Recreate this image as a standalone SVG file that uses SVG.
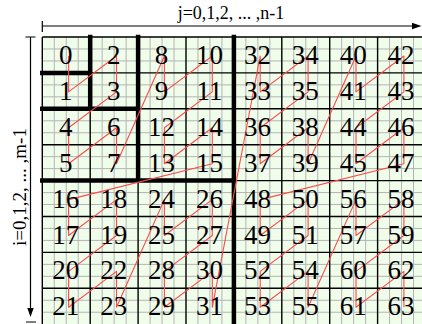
<svg xmlns="http://www.w3.org/2000/svg" width="422" height="324" viewBox="0 0 422 324">
<style>
.num{font-family:"Liberation Serif","Times New Roman",serif;font-size:27px;fill:#000;text-anchor:middle}
.lbl{font-family:"Liberation Serif","Times New Roman",serif;font-size:18px;fill:#000;text-anchor:middle}
.fine{stroke:#b4b4b4;stroke-width:1;fill:none}
.cell{stroke:#000;stroke-width:1.4;fill:none}
.thick{stroke:#000;stroke-width:4.5;fill:none;stroke-linecap:square}
.axis{stroke:#000;stroke-width:1.2;fill:none}
.path{stroke:#ff4a4a;stroke-width:1.1;fill:none;stroke-linejoin:round}
</style>
<rect x="0" y="0" width="422" height="324" fill="#fff"/>
<g id="grid">
<rect x="42.3" y="37" width="390" height="290" fill="#effdea"/>
<path class="fine" d="M54.28 37V324M66.25 37V324M78.23 37V324M102.18 37V324M114.15 37V324M126.13 37V324M150.08 37V324M162.05 37V324M174.03 37V324M197.98 37V324M209.95 37V324M221.93 37V324M245.88 37V324M257.85 37V324M269.83 37V324M293.78 37V324M305.75 37V324M317.73 37V324M341.68 37V324M353.65 37V324M365.63 37V324M389.58 37V324M401.55 37V324M413.53 37V324
M42.3 48.97H422M42.3 60.93H422M42.3 84.87H422M42.3 96.83H422M42.3 120.77H422M42.3 132.73H422M42.3 156.67H422M42.3 168.63H422M42.3 192.57H422M42.3 204.53H422M42.3 228.47H422M42.3 240.43H422M42.3 264.37H422M42.3 276.33H422M42.3 300.27H422M42.3 312.23H422"/>
<path class="cell" d="M42.3 37V324M90.2 37V324M138.1 37V324M186 37V324M233.9 37V324M281.8 37V324M329.7 37V324M377.6 37V324
M42.3 37H422M42.3 72.9H422M42.3 108.8H422M42.3 144.7H422M42.3 180.6H422M42.3 216.5H422M42.3 252.4H422M42.3 288.3H422"/>
<path class="thick" d="M90.2 37V108.8M42.3 72.9H90.2M138.1 37V180.6M42.3 108.8H138.1M233.9 37V324M42.3 180.6H233.9"/>
</g>
<g id="axes">
<path class="axis" d="M42.3 21V32M42.3 26H414"/>
<polygon points="421.5,26 412,22.8 412,29.2" fill="#000"/>
<path class="axis" d="M25.5 37H35.5M30.5 37V310M26 322H36"/>
<polygon points="30.5,317 27.3,308 33.7,308" fill="#000"/>
<text class="lbl" x="231" y="18.5">j=0,1,2, ... ,n-1</text>
<text class="lbl" style="font-size:19px" transform="translate(26,187) rotate(-90)">i=0,1,2, ... ,m-1</text>
</g>
<g id="connectors">
<polyline class="path" points="68.6,56 68.6,91.9 116.5,56 116.5,91.9 68.6,127.8 68.6,163.7 116.5,127.8 116.5,163.7 164.4,56 164.4,91.9 212.3,56 212.3,91.9 164.4,127.8 164.4,163.7 212.3,127.8 212.3,163.7 68.6,199.6 68.6,235.5 116.5,199.6 116.5,235.5 68.6,271.4 68.6,307.3 116.5,271.4 116.5,307.3 164.4,199.6 164.4,235.5 212.3,199.6 212.3,235.5 164.4,271.4 164.4,307.3 212.3,271.4 212.3,307.3 260.2,56 260.2,91.9 308.1,56 308.1,91.9 260.2,127.8 260.2,163.7 308.1,127.8 308.1,163.7 356,56 356,91.9 403.9,56 403.9,91.9 356,127.8 356,163.7 403.9,127.8 403.9,163.7 260.2,199.6 260.2,235.5 308.1,199.6 308.1,235.5 260.2,271.4 260.2,307.3 308.1,271.4 308.1,307.3 356,199.6 356,235.5 403.9,199.6 403.9,235.5 356,271.4 356,307.3 403.9,271.4 403.9,307.3"/>
</g>
<g id="nodes">
<g id="n0"><text class="num" x="65.8" y="64">0</text></g>
<g id="n2"><text class="num" x="113.7" y="64">2</text></g>
<g id="n8"><text class="num" x="161.6" y="64">8</text></g>
<g id="n10"><text class="num" x="209.5" y="64">10</text></g>
<g id="n32"><text class="num" x="257.4" y="64">32</text></g>
<g id="n34"><text class="num" x="305.3" y="64">34</text></g>
<g id="n40"><text class="num" x="353.2" y="64">40</text></g>
<g id="n42"><text class="num" x="401.1" y="64">42</text></g>
<g id="n1"><text class="num" x="65.8" y="99.9">1</text></g>
<g id="n3"><text class="num" x="113.7" y="99.9">3</text></g>
<g id="n9"><text class="num" x="161.6" y="99.9">9</text></g>
<g id="n11"><text class="num" x="209.5" y="99.9">11</text></g>
<g id="n33"><text class="num" x="257.4" y="99.9">33</text></g>
<g id="n35"><text class="num" x="305.3" y="99.9">35</text></g>
<g id="n41"><text class="num" x="353.2" y="99.9">41</text></g>
<g id="n43"><text class="num" x="401.1" y="99.9">43</text></g>
<g id="n4"><text class="num" x="65.8" y="135.8">4</text></g>
<g id="n6"><text class="num" x="113.7" y="135.8">6</text></g>
<g id="n12"><text class="num" x="161.6" y="135.8">12</text></g>
<g id="n14"><text class="num" x="209.5" y="135.8">14</text></g>
<g id="n36"><text class="num" x="257.4" y="135.8">36</text></g>
<g id="n38"><text class="num" x="305.3" y="135.8">38</text></g>
<g id="n44"><text class="num" x="353.2" y="135.8">44</text></g>
<g id="n46"><text class="num" x="401.1" y="135.8">46</text></g>
<g id="n5"><text class="num" x="65.8" y="171.7">5</text></g>
<g id="n7"><text class="num" x="113.7" y="171.7">7</text></g>
<g id="n13"><text class="num" x="161.6" y="171.7">13</text></g>
<g id="n15"><text class="num" x="209.5" y="171.7">15</text></g>
<g id="n37"><text class="num" x="257.4" y="171.7">37</text></g>
<g id="n39"><text class="num" x="305.3" y="171.7">39</text></g>
<g id="n45"><text class="num" x="353.2" y="171.7">45</text></g>
<g id="n47"><text class="num" x="401.1" y="171.7">47</text></g>
<g id="n16"><text class="num" x="65.8" y="207.6">16</text></g>
<g id="n18"><text class="num" x="113.7" y="207.6">18</text></g>
<g id="n24"><text class="num" x="161.6" y="207.6">24</text></g>
<g id="n26"><text class="num" x="209.5" y="207.6">26</text></g>
<g id="n48"><text class="num" x="257.4" y="207.6">48</text></g>
<g id="n50"><text class="num" x="305.3" y="207.6">50</text></g>
<g id="n56"><text class="num" x="353.2" y="207.6">56</text></g>
<g id="n58"><text class="num" x="401.1" y="207.6">58</text></g>
<g id="n17"><text class="num" x="65.8" y="243.5">17</text></g>
<g id="n19"><text class="num" x="113.7" y="243.5">19</text></g>
<g id="n25"><text class="num" x="161.6" y="243.5">25</text></g>
<g id="n27"><text class="num" x="209.5" y="243.5">27</text></g>
<g id="n49"><text class="num" x="257.4" y="243.5">49</text></g>
<g id="n51"><text class="num" x="305.3" y="243.5">51</text></g>
<g id="n57"><text class="num" x="353.2" y="243.5">57</text></g>
<g id="n59"><text class="num" x="401.1" y="243.5">59</text></g>
<g id="n20"><text class="num" x="65.8" y="279.4">20</text></g>
<g id="n22"><text class="num" x="113.7" y="279.4">22</text></g>
<g id="n28"><text class="num" x="161.6" y="279.4">28</text></g>
<g id="n30"><text class="num" x="209.5" y="279.4">30</text></g>
<g id="n52"><text class="num" x="257.4" y="279.4">52</text></g>
<g id="n54"><text class="num" x="305.3" y="279.4">54</text></g>
<g id="n60"><text class="num" x="353.2" y="279.4">60</text></g>
<g id="n62"><text class="num" x="401.1" y="279.4">62</text></g>
<g id="n21"><text class="num" x="65.8" y="315.3">21</text></g>
<g id="n23"><text class="num" x="113.7" y="315.3">23</text></g>
<g id="n29"><text class="num" x="161.6" y="315.3">29</text></g>
<g id="n31"><text class="num" x="209.5" y="315.3">31</text></g>
<g id="n53"><text class="num" x="257.4" y="315.3">53</text></g>
<g id="n55"><text class="num" x="305.3" y="315.3">55</text></g>
<g id="n61"><text class="num" x="353.2" y="315.3">61</text></g>
<g id="n63"><text class="num" x="401.1" y="315.3">63</text></g>
</g>
</svg>
